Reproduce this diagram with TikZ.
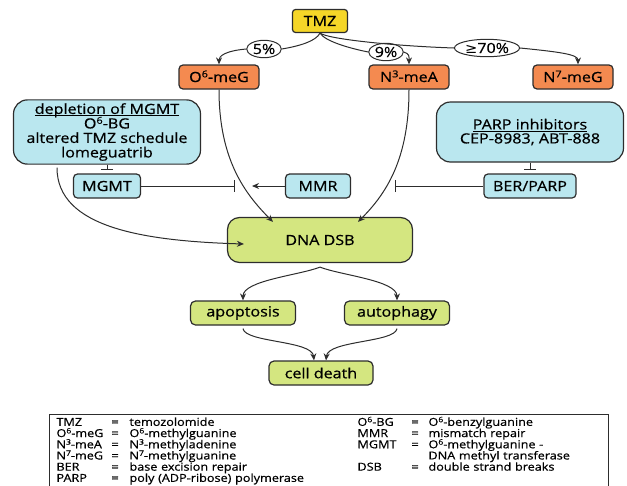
\documentclass[tikz,border=0pt]{standalone}
\usepackage{fontspec}
\setmainfont{Open Sans}[FakeStretch=1.15, FakeBold=0.6]
\newfontfamily\symfont{DejaVu Sans}[FakeStretch=1.05]
\usepackage{xcolor}
\usepackage{graphicx}
\usepackage{tikz}
\usetikzlibrary{shapes.geometric, arrows, arrows.meta}
\definecolor{tmzyellow}{RGB}{245,214,40}
\definecolor{adductorange}{RGB}{244,138,80}
\definecolor{repairblue}{RGB}{186,231,239}
\definecolor{fategreen}{RGB}{212,230,128}
\definecolor{edgegray}{RGB}{45,45,45}
\newcommand{\sups}[1]{\smash{\raisebox{0.33em}{\scalebox{0.68}{#1}}}}
\newcommand{\headline}[1]{{\setbox0\hbox{#1}\rlap{\rule[-2pt]{\wd0}{0.8pt}}\box0}}
\newcommand{\abbrevrow}[6]{\makebox[55pt][l]{#1}\makebox[18pt][l]{#2}\makebox[228pt][l]{#3}\makebox[54pt][l]{#4}\makebox[17pt][l]{#5}#6}
\tikzstyle{drug}      = [rectangle, rounded corners=3pt, minimum width=55pt, minimum height=23pt, text centered, draw=edgegray, line width=1.2pt, fill=tmzyellow]
\tikzstyle{adduct}    = [rectangle, rounded corners=4pt, minimum width=80pt, minimum height=24pt, text centered, draw=edgegray, line width=1.2pt, fill=adductorange]
\tikzstyle{share}     = [ellipse, inner sep=1pt, minimum height=17pt, text centered, draw=edgegray, line width=1pt, fill=white]
\tikzstyle{agent}     = [rectangle, rounded corners=14pt, minimum width=187pt, minimum height=60pt, align=center, draw=edgegray, line width=1.2pt, fill=repairblue]
\tikzstyle{repair}    = [rectangle, rounded corners=4pt, minimum height=24pt, text centered, draw=edgegray, line width=1.2pt, fill=repairblue]
\tikzstyle{fate}      = [rectangle, rounded corners=5pt, minimum height=24pt, text centered, draw=edgegray, line width=1.2pt, fill=fategreen]
\tikzstyle{line}      = [line width=1pt, draw=edgegray]
\tikzstyle{arrow}     = [line width=1pt, draw=edgegray, -{Stealth[length=7pt, width=6pt]}]
\tikzstyle{inhibit}   = [line width=1pt, draw=edgegray, -{Bar[width=12pt]}]
\tikzstyle{legendbox} = [rectangle, draw=edgegray, line width=1pt, inner xsep=7pt, inner ysep=3pt, anchor=north west, text width=545pt, align=left, font={\fontsize{11}{11.2}\selectfont\lineskiplimit=-20pt}]

\begin{document}
\begin{tikzpicture}[x=1pt, y=-1pt, font=\fontsize{14}{14}\selectfont]
    \useasboundingbox (0,0) rectangle (627,485);
    \clip (0,0) rectangle (627,485);

    % drug and its adducts
    \node (tmz) [drug]   at (320,21) {TMZ};
    \node (o6)  [adduct] at (219,77) {O\sups{6}-meG};
    \node (n3)  [adduct] at (409,77) {N\sups{3}-meA};
    \node (n7)  [adduct] at (573,77) {N\sups{7}-meG};

    \node (p5)  [share, minimum width=33pt] at (264,49) {5\%};
    \node (p9)  [share, minimum width=32pt] at (386,52) {9\%};
    \node (p70) [share, minimum width=53pt] at (487,48) {{\symfont ≥}70\%};

    \draw [line]  (tmz.south) .. controls +(-4,8) and +(18,-3) .. (p5.east);
    \draw [arrow] (p5.west) .. controls +(-22,2) and +(0,-8) .. (o6.north);
    \draw [line]  (tmz.south) .. controls +(5,8) and +(-20,-4) .. (p9.west);
    \draw [arrow] (p9.east) .. controls +(6,2) and +(0,-8) .. (n3.north);
    \draw [line]  (tmz.south) .. controls +(8,6) and +(-60,-2) .. (p70.west);
    \draw [arrow] (p70.east) .. controls +(40,4) and +(0,-10) .. ([xshift=5pt]n7.north);

    % modulators and repair
    \node (dep)   [agent, font=\fontsize{14}{14.5}\selectfont] at (107,132) {\headline{depletion of MGMT}\\O\sups{6}-BG\\altered TMZ schedule\\lomeguatrib};
    \node (parpi) [agent] at (530,132) {\headline{PARP inhibitors}\\CEP-8983, ABT-888};

    \node (mgmt) [repair, minimum width=67pt] at (107,186) {MGMT};
    \node (mmr)  [repair, minimum width=65pt] at (318,186) {MMR};
    \node (ber)  [repair, minimum width=92pt] at (530,186) {BER/PARP};

    \coordinate (mgmtstop) at (235,186);
    \coordinate (mmrtip)   at (252,186);
    \coordinate (berstop)  at (395,186);

    \draw [inhibit] (dep.south) -- ([yshift=3pt]mgmt.north);
    \draw [inhibit] (parpi.south) -- ([yshift=3pt]ber.north);
    \draw [inhibit] (mgmt) -- (mgmtstop);
    \draw [arrow]   (mmr) -- (mmrtip);
    \draw [inhibit] (ber) -- (berstop);

    % damage and cell fate
    \node (dsb)   [fate, minimum width=185pt, minimum height=45pt, rounded corners=12pt] at (320,240) {DNA DSB};
    \node (apop)  [fate, minimum width=105pt] at (243,313) {apoptosis};
    \node (auto)  [fate, minimum width=105pt] at (397,313) {autophagy};
    \node (death) [fate, minimum width=104pt] at (321,373) {cell death};

    \draw [arrow] (o6.south) .. controls +(0,70) and +(-28,-28) .. ([xshift=-47pt,yshift=-5pt]dsb.north);
    \draw [arrow] (n3.south) .. controls +(0,70) and +(28,-28) .. ([xshift=38pt,yshift=-5pt]dsb.north);
    \draw [arrow] ([xshift=-50pt,yshift=-3pt]dep.south) .. controls +(0,60) and +(-100,-3) .. ([xshift=17pt,yshift=-4pt]dsb.west);

    \coordinate (fork) at ([yshift=-4pt]dsb.south);
    \draw [arrow] (fork) .. controls +(-20,8) and +(0,-20) .. (apop.north);
    \draw [arrow] (fork) .. controls +(20,8) and +(0,-20) .. (auto.north);
    \draw [arrow] ([yshift=-3pt]apop.south) .. controls +(2,14) and +(-2,-20) .. ([xshift=-7pt]death.north);
    \draw [arrow] ([yshift=-3pt]auto.south) .. controls +(-2,14) and +(2,-20) .. ([xshift=5pt]death.north);

    % abbreviations
    \node (legend) [legendbox] at (49,414) {%
      \abbrevrow{TMZ}{=}{temozolomide}{O\sups{6}-BG}{=}{O\sups{6}-benzylguanine}\\
      \abbrevrow{O\sups{6}-meG}{=}{O\sups{6}-methylguanine}{MMR}{=}{mismatch repair}\\
      \abbrevrow{N\sups{3}-meA}{=}{N\sups{3}-methyladenine}{MGMT}{=}{O\sups{6}-methylguanine -}\\
      \abbrevrow{N\sups{7}-meG}{=}{N\sups{7}-methylguanine}{}{}{DNA methyl transferase}\\
      \abbrevrow{BER}{=}{base excision repair}{DSB}{=}{double strand breaks}\\
      \abbrevrow{PARP}{=}{poly (ADP-ribose) polymerase}{}{}{}};
\end{tikzpicture}
\end{document}
